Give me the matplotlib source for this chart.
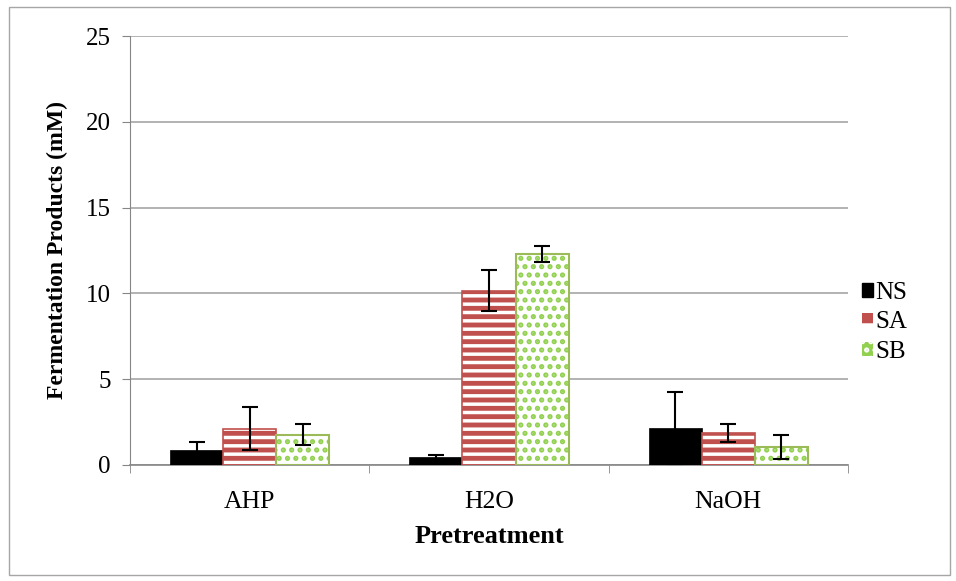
import matplotlib.pyplot as plt
import numpy as np
from matplotlib.patches import Rectangle

plt.rcParams['font.family'] = ['Liberation Serif', 'DejaVu Serif']
plt.rcParams['hatch.linewidth'] = 2.5

kategorie = ["AHP", "H2O", "NaOH"]
serie = ["NS", "SA", "SB"]
ns = [0.87, 0.45, 2.15]
sa = [2.1, 10.14, 1.85]
sb = [1.75, 12.3, 1.05]
ns_err = [0.45, 0.13, 2.1]
sa_err = [1.25, 1.2, 0.5]
sb_err = [0.62, 0.45, 0.7]

fig = plt.figure(figsize=(9.56, 5.81), dpi=100)
ax = fig.add_axes([0.136, 0.2, 0.751, 0.738])

x = np.arange(len(kategorie))
w = 0.222
czerwony = '#C0504D'
zielony = '#92D050'

# NS - pelne czarne
ax.bar(x - w, ns, w, color='black', edgecolor='black', linewidth=0.5, zorder=3, label='NS')
# SA - czerwone z bialymi paskami
ax.bar(x, sa, w, color=czerwony, edgecolor='white', linewidth=0, hatch='--', zorder=3)
ax.bar(x, sa, w, fill=False, edgecolor=czerwony, linewidth=1.2, zorder=3)
# SB - biale z zielonymi kropkami
ax.bar(x + w, sb, w, color='white', edgecolor=zielony, linewidth=0, hatch='..', zorder=3)
ax.bar(x + w, sb, w, fill=False, edgecolor='#9BBB59', linewidth=1.5, zorder=3)

for dx, v, e in [(-w, ns, ns_err), (0, sa, sa_err), (w, sb, sb_err)]:
    ax.errorbar(x + dx, v, yerr=e, fmt='none', ecolor='black', elinewidth=1.5,
                capsize=6, capthick=1.5, zorder=4)

# legenda
uchwyty = [Rectangle((0, 0), 1, 1, facecolor='black', edgecolor='black'),
           Rectangle((0, 0), 1, 1, facecolor=czerwony, edgecolor='white', hatch='-', linewidth=0),
           Rectangle((0, 0), 1, 1, facecolor=zielony, edgecolor='white', hatch='..', linewidth=0)]
ax.legend(uchwyty, serie, loc='center left', bbox_to_anchor=(0.995, 0.332), frameon=False,
          fontsize=18, handlelength=0.45, handleheight=0.45, handletextpad=0.1,
          labelspacing=0.3, borderaxespad=0.3)

ax.set_xlim(-0.5, 2.5)
ax.set_ylim(0, 25)
ax.set_yticks(range(0, 26, 5))
ax.set_xticks(x)
ax.set_xticklabels(kategorie)
ax.set_xticks([-0.5, 0.5, 1.5, 2.5], minor=True)
ax.tick_params(axis='x', which='major', length=0, labelsize=18.5, pad=19)
ax.tick_params(axis='x', which='minor', length=6, color='#868686')
ax.tick_params(axis='y', length=6, color='#868686', labelsize=18, pad=8)
ax.grid(axis='y', color='#A6A6A6', linewidth=1.2, zorder=0)
ax.set_axisbelow(True)
for s in ['top', 'right']:
    ax.spines[s].set_visible(False)
ax.spines['left'].set_color('#868686')
ax.spines['bottom'].set_color('#868686')
ax.spines['bottom'].set_linewidth(1.2)

ax.set_xlabel("Pretreatment", fontsize=19, fontweight='bold')
ax.set_ylabel("Fermentation Products (mM)", fontsize=17, fontweight='bold')
ax.xaxis.set_label_coords(0.5, -0.14)
ax.yaxis.set_label_coords(-0.086, 0.5)

# ramka wokol calego wykresu
fig.patches.append(Rectangle((0.009, 0.01), 0.985, 0.978, transform=fig.transFigure,
                             fill=False, edgecolor='#A6A6A6', linewidth=1))

fig.savefig("out.png", dpi=100)
